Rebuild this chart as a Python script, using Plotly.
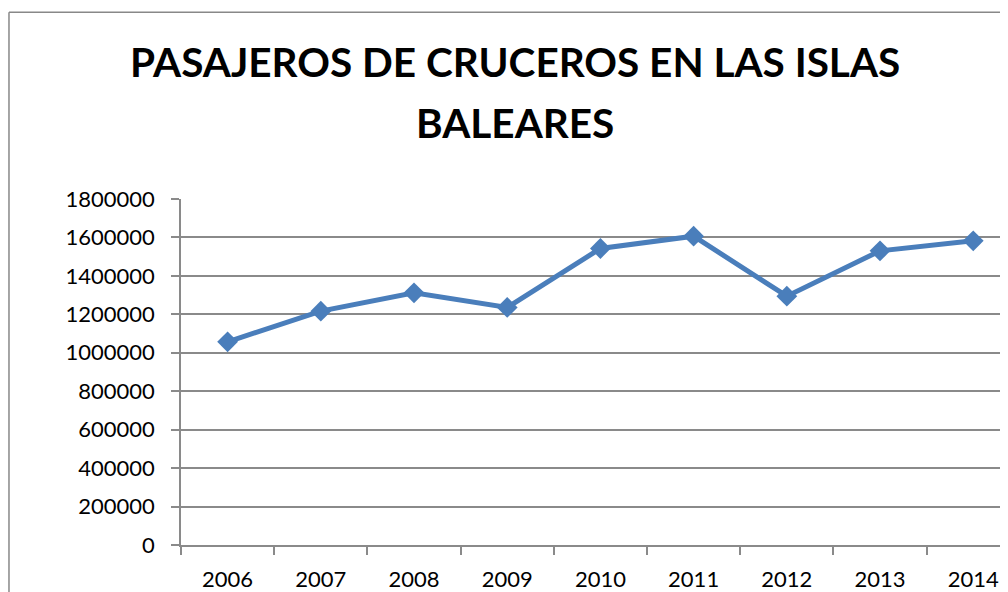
import plotly.graph_objects as go

years = ["2006", "2007", "2008", "2009", "2010", "2011", "2012", "2013", "2014"]
passengers = [1057000, 1216600, 1311800, 1235900, 1542600, 1606600, 1294600, 1530200, 1582300]
y_ticks = [0, 200000, 400000, 600000, 800000, 1000000, 1200000, 1400000, 1600000, 1800000]
title_line1 = "PASAJEROS DE CRUCEROS EN LAS ISLAS"
title_line2 = "BALEARES"

GRID = "#8a8a8a"
BLUE = "#4a7ebb"

fig = go.Figure()
fig.add_trace(go.Scatter(
    x=years, y=passengers, mode="lines+markers",
    line=dict(color=BLUE, width=5),
    marker=dict(symbol="diamond", size=16, color=BLUE),
    showlegend=False, cliponaxis=False,
))

fig.update_layout(
    width=1000, height=584, autosize=False,
    margin=dict(l=173, r=0, t=191, b=47, pad=0),
    paper_bgcolor="white", plot_bgcolor="white",
    font=dict(family="Lato", color="black", size=22),
    xaxis=dict(
        type="category", range=[-0.5, 8.373],
        tickson="boundaries", ticks="outside", ticklen=8, tickwidth=1.5, tickcolor=GRID,
        showline=True, linecolor=GRID, linewidth=1.5,
        showgrid=False, ticklabelstandoff=14,
        tickfont=dict(family="Lato", size=22, color="black"),
    ),
    yaxis=dict(
        range=[0, 1800000], tickvals=y_ticks, tickformat="d",
        ticks="outside", ticklen=8, tickwidth=1.5, tickcolor=GRID,
        showline=True, linecolor=GRID, linewidth=1.5,
        showgrid=True, gridcolor=GRID, gridwidth=1.5, zeroline=False,
        ticklabelstandoff=12,
        tickfont=dict(family="Lato", size=22, color="black"),
    ),
    annotations=[
        dict(text="<b>" + title_line1 + "</b>", xref="paper", yref="paper",
             x=0.4039, y=1.396, xanchor="center", yanchor="middle", showarrow=False,
             font=dict(family="Lato", size=40.5, color="black")),
        dict(text="<b>" + title_line2 + "</b>", xref="paper", yref="paper",
             x=0.4039, y=1.2197, xanchor="center", yanchor="middle", showarrow=False,
             font=dict(family="Lato", size=40.5, color="black")),
    ],
    shapes=[
        dict(type="line", xref="paper", yref="paper", x0=-0.208, x1=-0.208, y0=1.540, y1=-0.3,
             line=dict(color="#888888", width=1.5)),
        dict(type="line", xref="paper", yref="paper", x0=-0.208, x1=1.1, y0=1.540, y1=1.540,
             line=dict(color="#888888", width=1.5)),
    ],
)

fig.write_html("out.html")
